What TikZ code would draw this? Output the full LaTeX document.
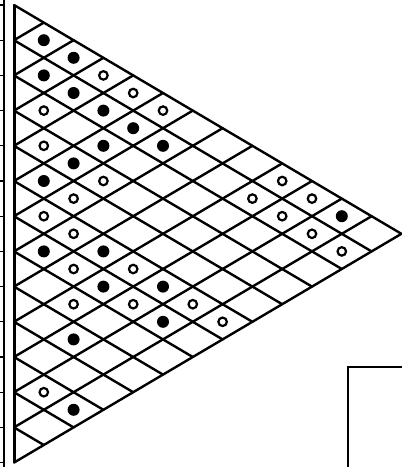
\documentclass[tikz,border=0pt]{standalone}
\usetikzlibrary{positioning}
\begin{document}
\begin{tikzpicture}[x=1pt, y=-1pt,
  gridline/.style={line width=2.4pt, line cap=round},
  fulldot/.style={circle, fill=black, inner sep=0pt, minimum size=12pt},
  opendot/.style={circle, draw=black, line width=2.2pt, fill=white, inner sep=0pt, minimum size=8.5pt}
]
  \useasboundingbox (0,0) rectangle (402,467);
  % scale at the left
  \draw[line width=1.6pt] (4,0) -- (4,467);
  \foreach \k in {0,...,13}
    \draw[line width=1.2pt] (0,{5+35.2*\k}) -- (4,{5+35.2*\k});
  % corner frame
  \draw[line width=2pt] (348,467) -- (348,367) -- (402,367);
  \begin{scope}[shift={(14pt,-5pt)}, x=29.8pt, y=-35.2pt]
    \draw[line width=3pt] (0,0) -- (0,13);
    \foreach \i in {0,...,12}
      \draw[gridline] (0,\i) -- ({13-\i},{(13+\i)/2});
    \foreach \j in {1,...,13}
      \draw[gridline] (0,\j) -- (\j,{\j/2});
    \foreach \i/\j in {0/1,0/2,1/2,1/3,1/4,1/5,2/5,1/6,3/5,4/5,6/7,5/8,6/9,5/10,6/11,8/10,10/12,0/11}
      \node[fulldot] (full-\i-\j) at ({\j-\i},{(\i+\j+1)/2}) {};
    \foreach \i/\j in {0/3,0/4,0/5,2/3,3/4,3/6,4/6,5/6,5/7,6/8,5/9,7/9,6/10,5/11,5/12,10/11,0/9,1/9,0/10,1/10,1/11,1/12}
      \node[opendot] (open-\i-\j) at ({\j-\i},{(\i+\j+1)/2}) {};
  \end{scope}
\end{tikzpicture}
\end{document}
